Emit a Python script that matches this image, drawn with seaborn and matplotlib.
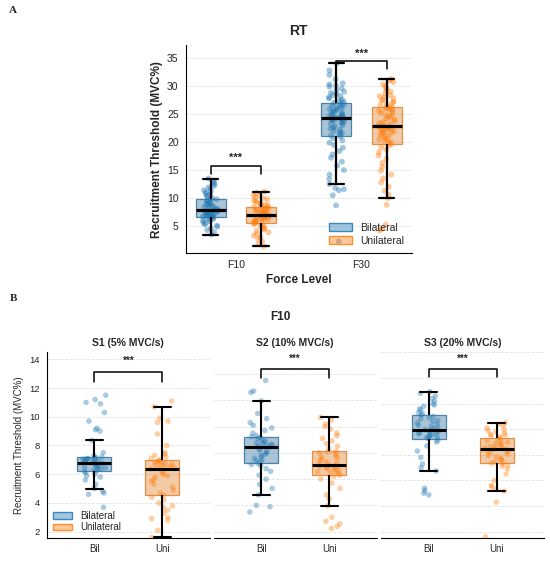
import numpy as np
import pandas as pd
import matplotlib.pyplot as plt
import seaborn as sns
from matplotlib.patches import Patch
from matplotlib.colors import to_rgba
from matplotlib.ticker import MultipleLocator

# Panel A: recruitment threshold (MVC%) by force level and condition
force_levels = ['F10', 'F30']
conditions = ['Bilateral', 'Unilateral']

f10_bil = [3.5, 3.9, 4.3, 4.6, 4.9, 5.1, 5.3, 5.5, 5.7, 5.9, 6.0, 6.2, 6.3, 6.4, 6.5,
           6.6,
           6.7, 6.8, 6.9, 7.0, 7.0, 7.1, 7.2, 7.3, 7.4, 7.4, 7.5, 7.6, 7.7, 7.7,
           7.8,
           7.9, 8.0, 8.1, 8.3, 8.4, 8.5, 8.7, 8.8, 8.9, 9.1, 9.2, 9.4, 9.5, 9.7,
           9.8,
           10.0, 10.2, 10.4, 10.6, 10.8, 11.0, 11.2, 11.4, 11.7, 11.9, 12.2, 12.5, 12.8, 13.1, 13.5]
f10_uni = [1.4, 1.8, 2.3, 2.7, 3.0, 3.3, 3.6, 3.9, 4.2, 4.4, 4.6, 4.8, 5.0, 5.2, 5.4,
           5.5,
           5.6, 5.7, 5.8, 5.9, 6.0, 6.1, 6.2, 6.3, 6.4, 6.5, 6.6, 6.7, 6.8, 6.9,
           7.0,
           7.1, 7.2, 7.3, 7.4, 7.5, 7.6, 7.7, 7.8, 7.9, 8.0, 8.1, 8.2, 8.3, 8.4,
           8.5,
           8.6, 8.7, 8.8, 9.0, 9.1, 9.3, 9.5, 9.6, 9.8, 10.0, 10.2, 10.4, 10.6, 10.9, 11.15]
f30_bil = [2.3, 8.7, 10.5, 11.4, 11.6, 11.8, 12.5, 13.4, 14.2, 15.0, 15.8, 16.5, 17.2, 17.8,
           18.4, 19.0, 19.5, 19.9, 20.3, 20.7,
           21.0,
           21.2, 21.4, 21.6, 21.8, 22.0, 22.2, 22.4, 22.6, 22.8, 23.0, 23.2, 23.4, 23.5, 23.7,
           23.8, 23.9, 24.0, 24.1, 24.2,
           24.3,
           24.4, 24.5, 24.6, 24.7, 24.8, 24.9, 25.0, 25.2, 25.3, 25.5, 25.6, 25.8, 25.9, 26.1,
           26.2, 26.4, 26.5, 26.7, 26.9,
           27.0,
           27.2, 27.4, 27.6, 27.8, 28.0, 28.2, 28.4, 28.6, 28.8, 29.0, 29.3, 29.6, 29.9, 30.1,
           30.3, 30.5, 31.2, 32.0, 32.8, 34.1]
f30_uni = [4.2, 4.5, 5.3, 8.8, 10.0, 10.6, 11.3, 12.0, 12.8, 13.5, 14.2, 14.9, 15.6, 16.3,
           17.0, 17.6, 18.2, 18.7, 19.1, 19.4,
           19.7,
           19.9, 20.1, 20.3, 20.5, 20.7, 20.9, 21.1, 21.3, 21.5, 21.7, 21.8, 21.9, 22.0, 22.1,
           22.2, 22.3, 22.5, 22.6, 22.7,
           22.8,
           22.9, 23.0, 23.2, 23.4, 23.6, 23.8, 24.0, 24.2, 24.4, 24.6, 24.8, 25.0, 25.2, 25.4,
           25.6, 25.8, 25.9, 26.0, 26.1,
           26.2,
           26.4, 26.6, 26.8, 27.0, 27.2, 27.4, 27.6, 27.8, 28.0, 28.2, 28.4, 28.7, 29.0, 29.3,
           29.6, 29.9, 30.3, 30.7, 31.0, 31.3]

# Panel B: F10 split by ramp speed
speeds = ['S1 (5% MVC/s)', 'S2 (10% MVC/s)', 'S3 (20% MVC/s)']
short_conds = ['Bil', 'Uni']

s1_bil = [3.7, 4.6, 4.7, 4.8, 5.0, 5.3, 5.6, 5.8, 5.9, 6.0, 6.1, 6.2,
          6.25,
          6.3, 6.35, 6.4, 6.45, 6.5, 6.55, 6.6, 6.65, 6.7, 6.72, 6.75,
          6.8,
          6.85, 6.9, 6.92, 6.95, 7.0, 7.02, 7.05, 7.08, 7.1, 7.12, 7.15,
          7.2,
          7.3, 7.5, 8.35, 9.0, 9.1, 9.2, 9.7, 10.3, 10.9, 11.0, 11.2, 11.5]
s1_uni = [1.6, 2.1, 2.8, 2.9, 3.0, 3.3, 3.5, 3.7, 3.8, 4.0, 4.2, 4.4,
          4.52,
          4.7, 4.9, 5.1, 5.3, 5.5, 5.6, 5.8, 5.9, 6.0, 6.1, 6.25,
          6.37,
          6.45, 6.5, 6.55, 6.6, 6.65, 6.7, 6.75, 6.8, 6.85, 6.9, 6.95,
          7.0,
          7.1, 7.2, 7.3, 7.4, 7.5, 8.0, 8.8, 9.6, 9.7, 9.9, 10.7, 11.1]
s2_bil = [3.5, 3.9, 4.0, 4.81, 5.3, 5.6, 6.0, 6.3, 6.6, 6.8, 7.0, 7.1,
          7.2,
          7.3, 7.4, 7.5, 7.6, 7.7, 7.8, 7.9, 8.0, 8.1, 8.2, 8.3,
          8.42,
          8.5, 8.55, 8.6, 8.65, 8.7, 8.75, 8.8, 8.9, 9.0, 9.1, 9.15,
          9.22,
          9.3, 9.5, 9.7, 9.9, 10.1, 10.3, 10.6, 11.0, 11.94, 12.6, 12.7, 13.5]
s2_uni = [2.26, 2.4, 2.6, 2.8, 3.1, 3.98, 4.5, 4.8, 5.3, 5.7, 6.0, 6.2,
          6.31,
          6.4, 6.5, 6.55, 6.6, 6.7, 6.75, 6.8, 6.85, 6.9, 6.95, 7.0,
          7.05,
          7.1, 7.2, 7.3, 7.4, 7.5, 7.6, 7.7, 7.8, 7.9, 8.0, 8.05,
          8.13,
          8.3, 8.5, 8.7, 8.9, 9.1, 9.3, 9.5, 9.8, 10.0, 10.2, 10.5, 10.7]
s3_bil = [4.87, 5.0, 5.2, 5.4, 6.74, 7.0, 7.3, 7.8, 8.3, 8.7, 9.0, 9.15,
          9.27,
          9.35, 9.4, 9.45, 9.5, 9.6, 9.65, 9.7, 9.75, 9.8, 9.85, 9.9,
          9.97,
          10.05, 10.1, 10.2, 10.3, 10.4, 10.5, 10.6, 10.7, 10.8, 10.9, 11.0,
          11.12,
          11.2, 11.3, 11.5, 11.6, 11.8, 11.9, 12.0, 12.2, 12.4, 12.6, 12.8, 12.94]
s3_uni = [1.6, 4.3, 5.16, 5.3, 5.5, 5.6, 6.0, 6.5, 6.9, 7.1, 7.2, 7.3,
          7.34,
          7.45, 7.55, 7.65, 7.75, 7.85, 7.95, 8.05, 8.15, 8.25, 8.3, 8.4,
          8.46,
          8.5, 8.55, 8.6, 8.65, 8.7, 8.8, 8.9, 8.95, 9.0, 9.1, 9.2,
          9.3,
          9.4, 9.5, 9.55, 9.6, 9.7, 9.8, 9.9, 10.0, 10.1, 10.3, 10.4, 10.52]

blue, orange = '#1f77b4', '#ff7f0e'

sns.set_style('white')
plt.rcParams['font.family'] = ['Liberation Sans', 'DejaVu Sans']
plt.rcParams['axes.edgecolor'] = 'black'
np.random.seed(3)  # only for the strip jitter


def style_boxes(ax):
    # translucent fill + coloured edge, black whiskers/medians on top of the dots
    for p in ax.patches:
        rgb = p.get_facecolor()[:3]
        p.set_facecolor((*rgb, 0.42))
        p.set_edgecolor((*rgb, 0.85))
        p.set_linewidth(0.9)
    for c in ax.collections:
        c.set_zorder(3)
    for ln in ax.lines:
        ln.set_zorder(4)


def bracket(ax, x1, x2, y, drop, star_y, fs):
    ax.plot([x1, x1, x2, x2], [drop, y, y, drop], color='black', lw=1.1, zorder=5)
    ax.text((x1 + x2) / 2, star_y, '***', ha='center', va='center', fontsize=fs,
            fontweight='bold', zorder=5)


fig = plt.figure(figsize=(5.5, 5.62), dpi=100)

# ---------------- panel A ----------------
rows = []
for lvl, cond, vals in [('F10', 'Bilateral', f10_bil), ('F10', 'Unilateral', f10_uni),
                        ('F30', 'Bilateral', f30_bil), ('F30', 'Unilateral', f30_uni)]:
    rows += [(lvl, cond, v) for v in vals]
df_a = pd.DataFrame(rows, columns=['level', 'cond', 'rt'])
pal_a = {'Bilateral': blue, 'Unilateral': orange}

axA = fig.add_axes([0.3373, 0.5498, 0.4115, 0.3698])
sns.boxplot(data=df_a, x='level', y='rt', hue='cond', order=force_levels, hue_order=conditions,
            palette=pal_a, width=0.8, gap=0.4, showfliers=False, linecolor='black',
            linewidth=1.6, medianprops={'linewidth': 2.3}, legend=False, ax=axA)
sns.stripplot(data=df_a, x='level', y='rt', hue='cond', order=force_levels, hue_order=conditions,
              palette=pal_a, dodge=True, jitter=0.13, size=4.2, alpha=0.42, linewidth=0,
              legend=False, ax=axA)
style_boxes(axA)
axA.set_xlim(-0.4, 1.4)
axA.set_ylim(0.2, 37.3)
axA.yaxis.set_major_locator(MultipleLocator(5))
axA.grid(axis='y', ls='--', lw=0.6, color='#e2e2e2')
axA.set_axisbelow(True)
sns.despine(ax=axA)
axA.tick_params(axis='both', length=3, width=0.8, labelsize=7.5, color='black', pad=2)
axA.set_title('RT', fontsize=10, fontweight='bold', pad=7)
axA.set_xlabel('Force Level', fontsize=8.5, fontweight='bold', labelpad=3)
axA.set_ylabel('Recruitment Threshold (MVC%)', fontsize=8.5, fontweight='bold', labelpad=3)
bracket(axA, -0.2, 0.2, 15.8, 14.35, 17.1, 8)
bracket(axA, 0.8, 1.2, 34.4, 33.0, 35.7, 8)
axA.legend(handles=[Patch(facecolor=to_rgba(pal_a[c], 0.42), edgecolor=to_rgba(pal_a[c], 0.85),
                          label=c) for c in conditions],
           loc='lower right', frameon=False, fontsize=7.5, labelspacing=0.3,
           handlelength=2.2, borderaxespad=0.3)

# ---------------- panel B ----------------
groups_b = [(s1_bil, s1_uni), (s2_bil, s2_uni), (s3_bil, s3_uni)]
lefts = [0.0849, 0.3882, 0.6927]
ylims = [(1.54, 14.53), (1.5, 15.69), (1.48, 16.06)]
brackets_b = [(13.14, 12.44, 13.9), (14.35, 13.67, 15.15), (14.69, 14.06, 15.5)]
pal_b = {'Bil': blue, 'Uni': orange}

for i, (title, (bil, uni)) in enumerate(zip(speeds, groups_b)):
    df_b = pd.DataFrame({'cond': ['Bil'] * len(bil) + ['Uni'] * len(uni), 'rt': bil + uni})
    ax = fig.add_axes([lefts[i], 0.0422, 0.2966, 0.332])
    sns.boxplot(data=df_b, x='cond', y='rt', hue='cond', order=short_conds, hue_order=short_conds,
                palette=pal_b, width=0.5, showfliers=False, linecolor='black', linewidth=1.5,
                medianprops={'linewidth': 2.2}, legend=False, ax=ax)
    sns.stripplot(data=df_b, x='cond', y='rt', hue='cond', order=short_conds, hue_order=short_conds,
                  palette=pal_b, jitter=0.17, size=4.0, alpha=0.38, linewidth=0,
                  legend=False, ax=ax)
    style_boxes(ax)
    ax.set_xlim(-0.7, 1.7)
    ax.set_ylim(*ylims[i])
    ax.yaxis.set_major_locator(MultipleLocator(2))
    ax.grid(axis='y', ls='--', lw=0.6, color='#e2e2e2')
    ax.set_axisbelow(True)
    sns.despine(ax=ax, left=(i > 0))
    ax.tick_params(axis='y', length=3, width=0.8, labelsize=6.8, color='black', pad=2,
                   labelleft=(i == 0))
    ax.tick_params(axis='x', length=0, labelsize=7, pad=4)
    ax.set_title(title, fontsize=7.5, fontweight='bold', pad=4)
    ax.set_xlabel('')
    if i == 0:
        ax.set_ylabel('Recruitment Threshold (MVC%)', fontsize=7, labelpad=4)
        ax.legend(handles=[Patch(facecolor=to_rgba(pal_b[k], 0.42),
                                 edgecolor=to_rgba(pal_b[k], 0.85), label=lab)
                           for k, lab in zip(short_conds, conditions)],
                  loc='lower left', frameon=False, fontsize=7, labelspacing=0.2,
                  handlelength=2.0, borderaxespad=0.2)
    else:
        ax.set_ylabel('')
    by, bd, sy = brackets_b[i]
    bracket(ax, 0, 1, by, bd, sy, 7)

fig.text(0.509, 0.4365, 'F10', ha='center', va='center', fontsize=8.5, fontweight='bold')
fig.text(0.024, 0.982, 'A', ha='center', va='center', fontsize=8, fontweight='bold',
         family=['Liberation Serif', 'DejaVu Serif'])
fig.text(0.024, 0.468, 'B', ha='center', va='center', fontsize=8, fontweight='bold',
         family=['Liberation Serif', 'DejaVu Serif'])

fig.savefig('out.png', dpi=100)
